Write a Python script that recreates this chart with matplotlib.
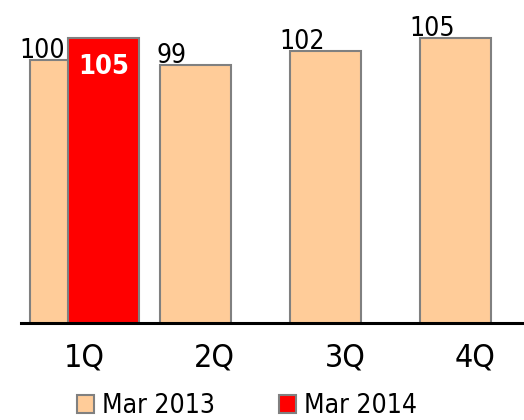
import matplotlib
matplotlib.use("Agg")
import matplotlib.pyplot as plt
from matplotlib.patches import Patch
import numpy as np

# Quarterly index values
quarters = ["1Q", "2Q", "3Q", "4Q"]
mar_2013 = [100, 99, 102, 105]
mar_2014 = [105]
series_names = ["Mar 2013", "Mar 2014"]

tan = "#FFCC99"
red = "#FF0000"
edge = "#808080"

plt.rcParams["font.family"] = ["DejaVu Sans"]
plt.rcParams["font.stretch"] = "condensed"

W, H = 524, 420
fig = plt.figure(figsize=(W / 100, H / 100), dpi=100)
ax = fig.add_axes([21 / W, 97 / H, 1 - 21 / W, 1 - 97 / H])

x = np.arange(len(quarters))
width = 0.546
shift = 0.146

ax.bar(x - shift, mar_2013, width, color=tan, edgecolor=edge,
       linewidth=1.5, zorder=2)
ax.bar(x[:len(mar_2014)] + shift, mar_2014, width, color=red,
       edgecolor=edge, linewidth=1.5, zorder=3)

# value labels for the 2013 series, set up-left of each bar top
for xi, v in zip(x, mar_2013):
    ax.annotate(str(v), xy=(xi - shift, v), xytext=(-24, 2),
                textcoords="offset pixels", ha="center", va="baseline",
                fontsize=19, color="black", zorder=5)

# value label inside the 2014 bar
for xi, v in zip(x[:len(mar_2014)], mar_2014):
    ax.annotate(str(v), xy=(xi + shift, v), xytext=(0, -36),
                textcoords="offset pixels", ha="center", va="baseline",
                fontsize=19.5, fontweight="bold", color="white", zorder=5)

ax.set_xlim(-0.49, 3.377)
ax.set_ylim(42, 113.3)

for s in ["left", "right", "top"]:
    ax.spines[s].set_visible(False)
ax.spines["bottom"].set_linewidth(2.2)
ax.spines["bottom"].set_color("black")
ax.spines["bottom"].set_zorder(4)

ax.set_yticks([])
ax.set_xticks(x)
ax.set_xticklabels(quarters, fontsize=23)
ax.tick_params(axis="x", length=0, pad=14)

handles = [Patch(facecolor=tan, edgecolor=edge, linewidth=1.5),
           Patch(facecolor=red, edgecolor=edge, linewidth=1.5)]
fig.legend(handles, series_names, loc="lower center",
           bbox_to_anchor=(247 / W, -0.023), ncol=2, frameon=False,
           fontsize=19, handlelength=0.65, handleheight=0.65,
           handletextpad=0.3, columnspacing=2.4, borderaxespad=0)

fig.savefig("out.png", dpi=100)
